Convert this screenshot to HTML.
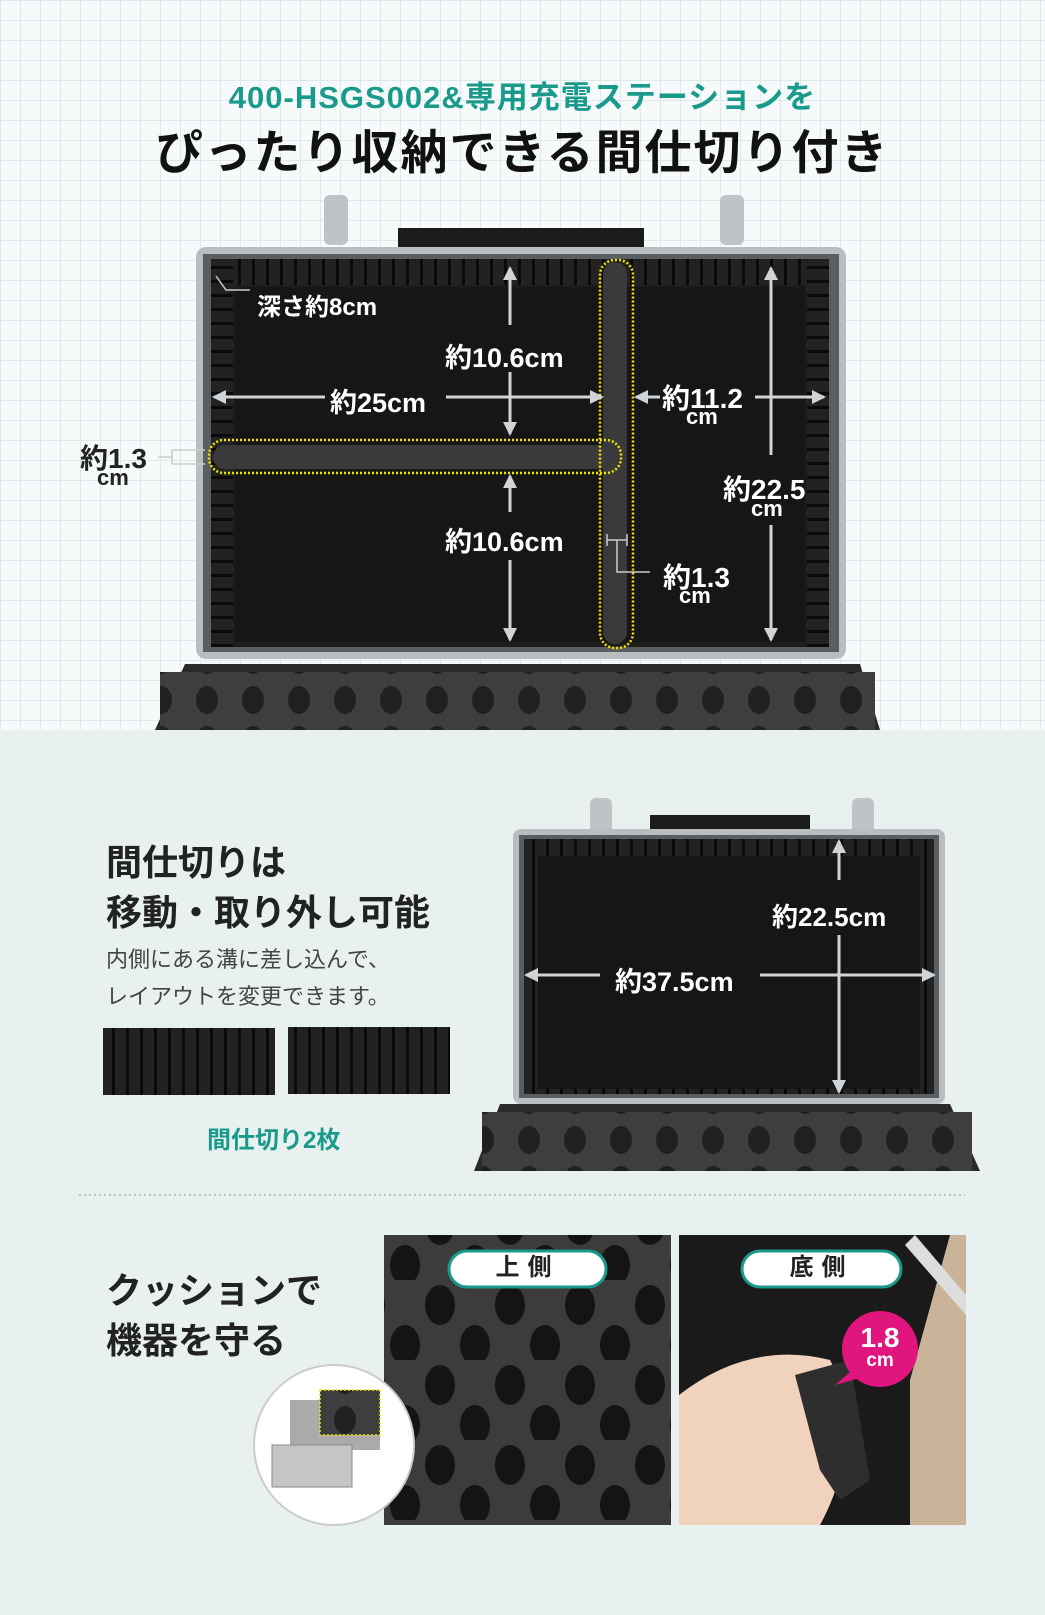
<!DOCTYPE html>
<html><head><meta charset="utf-8"><style>
html,body{margin:0;padding:0}
body{width:1045px;height:1615px;position:relative;overflow:hidden;background:#e9f1f0;font-family:"Liberation Sans","Noto Sans CJK JP",sans-serif}
.top{position:absolute;left:0;top:0;width:1045px;height:730px;background-color:#f7fafa;
background-image:linear-gradient(#dde9ea 1px,transparent 1px),linear-gradient(90deg,#dde9ea 1px,transparent 1px);background-size:20px 20px}
.t{position:absolute;white-space:nowrap;font-weight:bold}
</style></head><body>
<div class="top"></div>
<div class="t" style="left:0;width:1045px;text-align:center;top:72px;font-size:31px;color:#1a9a8a;letter-spacing:1px">400-HSGS002&amp;専用充電ステーションを</div>
<div class="t" style="left:0;width:1045px;text-align:center;top:114px;font-size:47px;color:#111;letter-spacing:2px">ぴったり収納できる間仕切り付き</div>

<svg width="1045" height="1615" style="position:absolute;left:0;top:0">
<defs>
<pattern id="foam" width="46" height="40" patternUnits="userSpaceOnUse">
<rect width="46" height="40" fill="#3e3e3e"/><ellipse cx="23" cy="20" rx="11" ry="14" fill="#202020"/></pattern>
<pattern id="foam2" width="70" height="80" patternUnits="userSpaceOnUse">
<rect width="70" height="80" fill="#3c3c3c"/><ellipse cx="20" cy="25" rx="15" ry="20" fill="#141414"/><ellipse cx="55" cy="65" rx="15" ry="20" fill="#141414"/></pattern>
<pattern id="ribs" width="14" height="14" patternUnits="userSpaceOnUse"><rect width="14" height="14" fill="#222"/><rect x="0" width="3" height="14" fill="#0a0a0a"/></pattern>
<pattern id="ribsv" width="14" height="14" patternUnits="userSpaceOnUse"><rect width="14" height="14" fill="#222"/><rect y="0" width="14" height="3" fill="#0a0a0a"/></pattern>
<marker id="a" markerUnits="userSpaceOnUse" markerWidth="14" markerHeight="14" refX="12" refY="7" orient="auto-start-reverse"><path d="M0,0 L14,7 L0,14 z" fill="#d0d4d6"/></marker>
</defs>

<!-- top case -->
<rect x="324" y="195" width="24" height="50" rx="6" fill="#bfc3c6"/><rect x="720" y="195" width="24" height="50" rx="6" fill="#bfc3c6"/>
<rect x="398" y="228" width="246" height="20" fill="#1b1b1b"/>
<rect x="196" y="247" width="650" height="412" rx="10" fill="#b9bdc0"/>
<rect x="203" y="254" width="636" height="398" fill="#5b5e60"/>
<rect x="211" y="259" width="618" height="388" fill="#1d1d1d"/>
<rect x="211" y="259" width="618" height="26" fill="url(#ribs)"/>
<rect x="211" y="259" width="22" height="388" fill="url(#ribsv)"/>
<rect x="807" y="259" width="22" height="388" fill="url(#ribsv)"/>
<rect x="235" y="287" width="570" height="355" fill="#161616"/>
<path d="M185,664 L860,664 L880,730 L155,730 z" fill="#2a2a2a"/>
<rect x="160" y="672" width="715" height="58" fill="url(#foam)"/>
<!-- dividers -->
<rect x="213" y="445" width="400" height="24" rx="12" fill="#3a3a3a"/>
<rect x="603" y="262" width="24" height="382" rx="12" fill="#3a3a3a"/>
<rect x="209" y="440" width="412" height="33" rx="15" fill="none" stroke="#f2e600" stroke-width="2.5" stroke-dasharray="2 2"/>
<rect x="600" y="260" width="33" height="388" rx="15" fill="none" stroke="#f2e600" stroke-width="2.5" stroke-dasharray="2 2"/>
<!-- arrows -->
<g stroke="#d0d4d6" stroke-width="3" fill="none">
<line x1="510" y1="268" x2="510" y2="325" marker-start="url(#a)"/>
<line x1="510" y1="372" x2="510" y2="434" marker-end="url(#a)"/>
<line x1="214" y1="397" x2="325" y2="397" marker-start="url(#a)"/>
<line x1="446" y1="397" x2="602" y2="397" marker-end="url(#a)"/>
<line x1="636" y1="397" x2="660" y2="397" marker-start="url(#a)"/>
<line x1="755" y1="397" x2="824" y2="397" marker-end="url(#a)"/>
<line x1="771" y1="268" x2="771" y2="455" marker-start="url(#a)"/>
<line x1="771" y1="525" x2="771" y2="640" marker-end="url(#a)"/>
<line x1="510" y1="476" x2="510" y2="512" marker-start="url(#a)"/>
<line x1="510" y1="560" x2="510" y2="640" marker-end="url(#a)"/>
</g>
<g stroke="#ccc" stroke-width="1.5" fill="none">
<path d="M216,276 L226,290 L250,290"/>
<path d="M172,450 L205,450 M172,464 L205,464 M172,450 L172,464 M158,457 L172,457"/>
<path d="M607,540 L627,540 M607,534 L607,546 M627,534 L627,546 M617,540 L617,572 L650,572"/>
</g>

<!-- second case -->
<rect x="590" y="798" width="22" height="38" rx="6" fill="#bfc3c6"/><rect x="852" y="798" width="22" height="38" rx="6" fill="#bfc3c6"/>
<rect x="650" y="815" width="160" height="17" fill="#1b1b1b"/>
<rect x="513" y="829" width="432" height="275" rx="8" fill="#b9bdc0"/>
<rect x="519" y="835" width="420" height="263" fill="#5b5e60"/>
<rect x="524" y="839" width="410" height="255" fill="url(#ribs)"/>
<rect x="538" y="856" width="382" height="233" fill="#161616"/>
<path d="M500,1104 L950,1104 L980,1171 L474,1171 z" fill="#2a2a2a"/>
<rect x="482" y="1112" width="490" height="59" fill="url(#foam)"/>
<g stroke="#d0d4d6" stroke-width="3" fill="none">
<line x1="839" y1="841" x2="839" y2="880" marker-start="url(#a)"/>
<line x1="839" y1="935" x2="839" y2="1092" marker-end="url(#a)"/>
<line x1="526" y1="975" x2="600" y2="975" marker-start="url(#a)"/>
<line x1="760" y1="975" x2="934" y2="975" marker-end="url(#a)"/>
</g>
<!-- dividers pieces -->
<rect x="103" y="1028" width="172" height="67" fill="url(#ribs)"/>
<rect x="288" y="1027" width="162" height="67" fill="url(#ribs)"/>
<line x1="79" y1="1195" x2="965" y2="1195" stroke="#aab4b4" stroke-width="1.5" stroke-dasharray="2 3"/>
<!-- photos -->
<rect x="384" y="1235" width="287" height="290" fill="url(#foam2)"/>
<rect x="679" y="1235" width="287" height="290" fill="#1a1a1a"/>
<path d="M950,1235 L966,1235 L966,1525 L910,1525 L910,1380 z" fill="#c9b49a"/>
<path d="M915,1235 L966,1295 L966,1315 L905,1245 z" fill="#ddd"/>
<path d="M679,1395 Q750,1340 830,1360 L850,1400 Q850,1470 820,1525 L679,1525 z" fill="#f0d2bd"/>
<path d="M795,1375 L850,1360 L870,1480 L840,1500 L820,1470 z" fill="#2e2e2e"/>
<rect x="449" y="1251" width="157" height="36" rx="18" fill="#fff" stroke="#1a9a8a" stroke-width="3"/>
<rect x="742" y="1251" width="159" height="36" rx="18" fill="#fff" stroke="#1a9a8a" stroke-width="3"/>
<circle cx="880" cy="1349" r="38" fill="#e0157e"/>
<path d="M850,1372 L835,1385 L860,1378 z" fill="#e0157e"/>
<circle cx="334" cy="1445" r="80" fill="#fff" stroke="#ccc" stroke-width="2"/>
<rect x="290" y="1400" width="90" height="50" fill="#aaa"/>
<rect x="320" y="1390" width="60" height="45" fill="url(#foam)" stroke="#f2e600" stroke-width="1.5" stroke-dasharray="2 2"/>
<rect x="272" y="1445" width="80" height="42" fill="#c4c6c8" stroke="#888"/>
</svg>

<div class="t" style="left:257px;top:287px;font-size:24px;color:#fff">深さ約8cm</div>
<div class="t" style="left:445px;top:336px;font-size:27px;color:#fff">約10.6cm</div>
<div class="t" style="left:330px;top:381px;font-size:27px;color:#fff">約25cm</div>
<div class="t" style="left:662px;top:377px;font-size:28px;color:#fff">約11.2</div>
<div class="t" style="left:686px;top:404px;font-size:22px;color:#fff">cm</div>
<div class="t" style="left:723px;top:468px;font-size:28px;color:#fff">約22.5</div>
<div class="t" style="left:751px;top:496px;font-size:22px;color:#fff">cm</div>
<div class="t" style="left:80px;top:437px;font-size:28px;color:#222">約1.3</div>
<div class="t" style="left:97px;top:465px;font-size:22px;color:#222">cm</div>
<div class="t" style="left:445px;top:520px;font-size:27px;color:#fff">約10.6cm</div>
<div class="t" style="left:663px;top:556px;font-size:28px;color:#fff">約1.3</div>
<div class="t" style="left:679px;top:583px;font-size:22px;color:#fff">cm</div>

<div class="t" style="left:106px;top:834px;font-size:36px;color:#222">間仕切りは</div>
<div class="t" style="left:106px;top:884px;font-size:36px;color:#222">移動・取り外し可能</div>
<div class="t" style="left:106px;top:942px;font-size:22px;color:#444;font-weight:normal">内側にある溝に差し込んで、</div>
<div class="t" style="left:106px;top:979px;font-size:22px;color:#444;font-weight:normal">レイアウトを変更できます。</div>
<div class="t" style="left:207px;top:1120px;font-size:24px;color:#1a9a8a">間仕切り2枚</div>
<div class="t" style="left:772px;top:897px;font-size:26px;color:#fff">約22.5cm</div>
<div class="t" style="left:615px;top:960px;font-size:27px;color:#fff">約37.5cm</div>

<div class="t" style="left:106px;top:1262px;font-size:36px;color:#222">クッションで</div>
<div class="t" style="left:106px;top:1312px;font-size:36px;color:#222">機器を守る</div>
<div class="t" style="left:449px;width:157px;text-align:center;top:1253px;line-height:30px;font-size:24px;color:#222;letter-spacing:8px">上側</div>
<div class="t" style="left:742px;width:159px;text-align:center;top:1253px;line-height:30px;font-size:24px;color:#222;letter-spacing:8px">底側</div>
<div class="t" style="left:842px;width:76px;text-align:center;top:1322px;font-size:28px;color:#fff">1.8</div>
<div class="t" style="left:842px;width:76px;text-align:center;top:1350px;font-size:19px;color:#fff">cm</div>
</body></html>
